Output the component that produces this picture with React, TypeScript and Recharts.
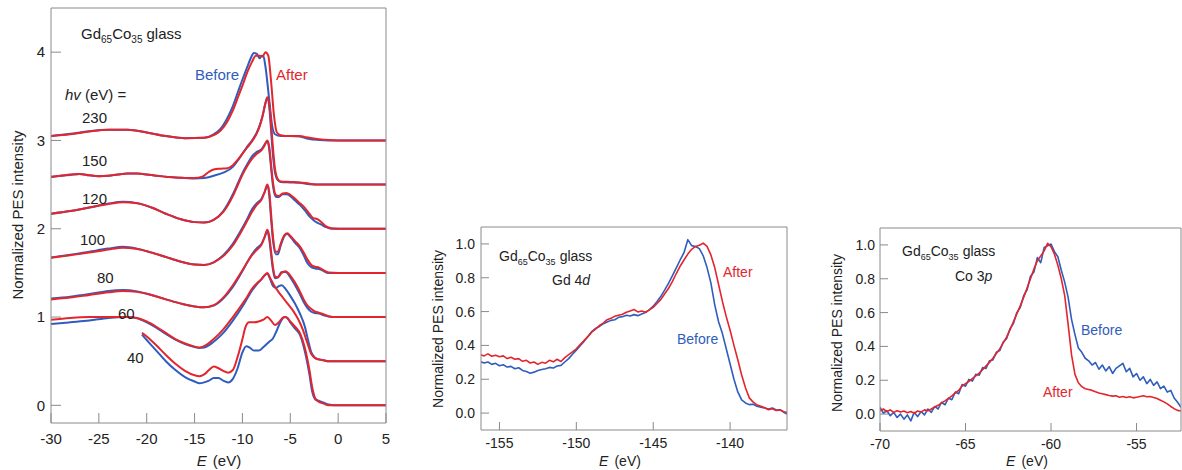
import React from 'react'
import { LineChart, Line, XAxis, YAxis } from 'recharts'

const FONT = '"Liberation Sans", Arial, Helvetica, sans-serif'
const BLUE = '#2f5dbd'
const RED = '#e3262d'
const FRAME = '#8a8a8a'
const INK = '#222'

type Pair = [number, number]

// ---- valence band spectra, stacked by photon energy (E, intensity + offset) ----
const hv230Before: Pair[] = [[-30,3.05],[-28,3.075],[-26,3.105],[-24,3.12],[-22,3.12],[-20,3.09],[-18,3.05],[-16,3.025],[-14,3.03],[-13,3.07],[-12.3,3.13],[-11.6,3.25],[-11,3.39],[-10.5,3.54],[-10,3.69],[-9.5,3.83],[-9.1,3.94],[-8.8,3.99],[-8.5,3.98],[-8.2,3.93],[-8.0,3.96],[-7.8,3.95],[-7.6,3.84],[-7.2,3.46],[-6.9,3.17],[-6.6,3.07],[-6,3.05],[-5,3.05],[-4,3.045],[-3.5,3.03],[-3,3.015],[-2,3.005],[-1,3.0],[5,3.0]]
const hv230After: Pair[] = [[-30,3.05],[-28,3.07],[-26,3.10],[-24,3.12],[-22,3.12],[-20,3.09],[-18,3.05],[-16,3.025],[-14,3.03],[-13,3.06],[-12.3,3.11],[-11.6,3.21],[-11,3.34],[-10.5,3.48],[-10,3.62],[-9.5,3.77],[-9,3.89],[-8.6,3.96],[-8.2,3.96],[-7.9,3.95],[-7.6,4.0],[-7.3,3.96],[-7.0,3.66],[-6.7,3.28],[-6.4,3.09],[-6,3.06],[-5,3.05],[-4,3.05],[-3.5,3.04],[-3,3.03],[-2,3.015],[-1,3.005],[0,3.0],[5,3.0]]

const hv150Before: Pair[] = [[-30,2.585],[-29,2.60],[-28,2.61],[-27,2.62],[-26,2.605],[-25,2.595],[-24,2.60],[-23,2.615],[-22,2.625],[-21,2.625],[-20,2.615],[-19,2.60],[-18,2.59],[-17,2.58],[-16,2.575],[-15,2.57],[-14,2.575],[-13,2.60],[-12,2.635],[-11,2.70],[-10.5,2.77],[-10,2.85],[-9.5,2.93],[-9,3.0],[-8.5,3.09],[-8.2,3.17],[-7.9,3.28],[-7.6,3.42],[-7.4,3.48],[-7.2,3.38],[-7.0,3.10],[-6.8,2.82],[-6.6,2.64],[-6.3,2.55],[-6,2.53],[-5,2.525],[-4,2.52],[-3,2.505],[-2,2.5],[5,2.5]]
const hv150After: Pair[] = [[-30,2.59],[-29,2.60],[-28,2.615],[-27,2.62],[-26,2.605],[-25,2.595],[-24,2.60],[-23,2.615],[-22,2.625],[-21,2.625],[-20,2.615],[-19,2.60],[-18,2.59],[-17,2.58],[-16,2.575],[-15,2.575],[-14.2,2.59],[-13.5,2.645],[-13,2.67],[-12.3,2.68],[-11.6,2.685],[-11,2.72],[-10.5,2.78],[-10,2.85],[-9.5,2.92],[-9,2.99],[-8.5,3.08],[-8.2,3.16],[-7.9,3.27],[-7.6,3.42],[-7.4,3.49],[-7.2,3.42],[-7.0,3.18],[-6.8,2.90],[-6.6,2.68],[-6.3,2.56],[-6,2.535],[-5,2.53],[-4,2.525],[-3,2.51],[-2,2.5],[5,2.5]]

const hv120Before: Pair[] = [[-30,2.17],[-28,2.20],[-26,2.24],[-24,2.285],[-22.5,2.305],[-21,2.29],[-19.5,2.24],[-18,2.17],[-16.5,2.11],[-15,2.075],[-14,2.07],[-13,2.10],[-12,2.20],[-11,2.39],[-10.5,2.51],[-10,2.63],[-9.5,2.73],[-9,2.82],[-8.5,2.87],[-8,2.90],[-7.7,2.95],[-7.4,2.99],[-7.2,2.90],[-7.0,2.68],[-6.8,2.48],[-6.5,2.36],[-6.2,2.36],[-5.8,2.39],[-5.4,2.39],[-5,2.37],[-4.5,2.32],[-4,2.27],[-3.5,2.21],[-3,2.14],[-2.6,2.10],[-2.2,2.07],[-1.8,2.05],[-1.3,2.02],[-0.7,2.0],[5,2.0]]
const hv120After: Pair[] = [[-30,2.17],[-28,2.20],[-26,2.24],[-24,2.28],[-22.5,2.30],[-21,2.29],[-19.5,2.24],[-18,2.17],[-16.5,2.11],[-15,2.075],[-14,2.07],[-13,2.10],[-12,2.19],[-11,2.37],[-10.5,2.49],[-10,2.61],[-9.5,2.71],[-9,2.79],[-8.5,2.85],[-8,2.89],[-7.7,2.94],[-7.4,3.0],[-7.2,2.93],[-7.0,2.72],[-6.8,2.52],[-6.5,2.38],[-6.2,2.37],[-5.8,2.40],[-5.4,2.405],[-5,2.385],[-4.5,2.34],[-4,2.29],[-3.5,2.24],[-3,2.17],[-2.6,2.12],[-2.2,2.11],[-1.8,2.08],[-1.3,2.03],[-0.7,2.005],[0,2.0],[5,2.0]]

const hv100Before: Pair[] = [[-30,1.675],[-28,1.705],[-26,1.74],[-24,1.775],[-22.5,1.795],[-21,1.775],[-19.5,1.73],[-18,1.68],[-16.5,1.63],[-15,1.595],[-14,1.59],[-13,1.62],[-12,1.70],[-11,1.83],[-10,2.01],[-9.5,2.11],[-9,2.22],[-8.5,2.29],[-8,2.34],[-7.7,2.41],[-7.4,2.48],[-7.2,2.38],[-7.0,2.10],[-6.8,1.86],[-6.5,1.71],[-6.3,1.71],[-6.0,1.81],[-5.6,1.92],[-5.3,1.94],[-5,1.91],[-4.5,1.84],[-4,1.78],[-3.6,1.70],[-3.2,1.61],[-2.8,1.565],[-2.4,1.55],[-2,1.545],[-1.6,1.525],[-1,1.5],[5,1.5]]
const hv100After: Pair[] = [[-30,1.67],[-28,1.70],[-26,1.73],[-24,1.765],[-22.5,1.785],[-21,1.77],[-19.5,1.73],[-18,1.68],[-16.5,1.63],[-15,1.595],[-14,1.59],[-13,1.62],[-12,1.69],[-11,1.81],[-10,1.99],[-9.5,2.09],[-9,2.19],[-8.5,2.27],[-8,2.33],[-7.7,2.41],[-7.4,2.50],[-7.2,2.42],[-7.0,2.16],[-6.8,1.90],[-6.5,1.74],[-6.3,1.74],[-6.0,1.83],[-5.6,1.93],[-5.3,1.95],[-5,1.92],[-4.5,1.86],[-4,1.80],[-3.6,1.73],[-3.2,1.65],[-2.8,1.59],[-2.4,1.57],[-2,1.56],[-1.6,1.535],[-1,1.505],[0,1.5],[5,1.5]]

const hv80Before: Pair[] = [[-30,1.21],[-28,1.23],[-26,1.26],[-24,1.295],[-22.5,1.305],[-21,1.29],[-19.5,1.25],[-18,1.20],[-16.5,1.155],[-15,1.12],[-14,1.11],[-13,1.13],[-12,1.21],[-11,1.34],[-10,1.52],[-9.5,1.62],[-9,1.71],[-8.5,1.78],[-8,1.83],[-7.7,1.90],[-7.4,1.97],[-7.2,1.88],[-7.0,1.70],[-6.8,1.53],[-6.6,1.44],[-6.3,1.45],[-5.9,1.51],[-5.5,1.51],[-5,1.45],[-4.5,1.36],[-4,1.26],[-3.6,1.17],[-3.2,1.10],[-2.8,1.06],[-2.4,1.045],[-2,1.04],[-1.5,1.02],[-1,1.005],[-0.5,1.0],[5,1.0]]
const hv80After: Pair[] = [[-30,1.20],[-28,1.22],[-26,1.25],[-24,1.28],[-22.5,1.295],[-21,1.285],[-19.5,1.25],[-18,1.20],[-16.5,1.155],[-15,1.12],[-14,1.11],[-13,1.135],[-12,1.22],[-11,1.36],[-10,1.53],[-9.5,1.62],[-9,1.70],[-8.5,1.76],[-8,1.82],[-7.7,1.90],[-7.4,1.99],[-7.2,1.92],[-7.0,1.74],[-6.8,1.56],[-6.6,1.46],[-6.3,1.45],[-5.9,1.50],[-5.5,1.52],[-5,1.47],[-4.5,1.39],[-4,1.29],[-3.6,1.20],[-3.2,1.13],[-2.8,1.09],[-2.4,1.06],[-2,1.05],[-1.5,1.03],[-1,1.01],[-0.5,1.0],[5,1.0]]

const hv60Before: Pair[] = [[-30,0.92],[-28,0.94],[-26,0.96],[-24,0.99],[-22,1.0],[-21,0.985],[-20,0.94],[-19,0.88],[-18,0.81],[-17,0.745],[-16,0.695],[-15,0.66],[-14.5,0.65],[-14,0.655],[-13,0.72],[-12,0.82],[-11,0.96],[-10,1.12],[-9.5,1.21],[-9,1.30],[-8.5,1.37],[-8,1.43],[-7.7,1.47],[-7.4,1.49],[-7.1,1.43],[-6.8,1.35],[-6.5,1.33],[-6.2,1.35],[-5.9,1.36],[-5.5,1.32],[-5.0,1.24],[-4.5,1.15],[-4.0,1.04],[-3.5,0.90],[-3.1,0.72],[-2.8,0.60],[-2.4,0.54],[-2,0.52],[-1.5,0.51],[-1,0.5],[5,0.5]]
const hv60After: Pair[] = [[-30,0.97],[-28,0.99],[-26,1.0],[-24,1.0],[-22,1.0],[-21,0.99],[-20,0.95],[-19,0.89],[-18,0.82],[-17,0.75],[-16,0.70],[-15,0.665],[-14.5,0.655],[-14,0.67],[-13,0.75],[-12,0.86],[-11,1.0],[-10,1.15],[-9.5,1.23],[-9,1.32],[-8.5,1.38],[-8,1.43],[-7.7,1.47],[-7.4,1.50],[-7.1,1.44],[-6.7,1.36],[-6.2,1.28],[-5.7,1.21],[-5.2,1.14],[-4.7,1.07],[-4.2,0.98],[-3.7,0.86],[-3.2,0.70],[-2.8,0.58],[-2.4,0.535],[-2,0.52],[-1.5,0.51],[-1,0.5],[5,0.5]]

const hv40Before: Pair[] = [[-20.5,0.80],[-20,0.74],[-19,0.62],[-18,0.50],[-17,0.40],[-16,0.32],[-15,0.27],[-14.5,0.25],[-14,0.26],[-13.5,0.28],[-13,0.31],[-12.5,0.31],[-12,0.28],[-11.5,0.26],[-11,0.30],[-10.5,0.42],[-10,0.60],[-9.6,0.67],[-9.2,0.65],[-8.8,0.62],[-8.3,0.62],[-7.8,0.66],[-7.2,0.72],[-6.8,0.76],[-6.4,0.85],[-6.0,0.95],[-5.6,1.0],[-5.3,0.99],[-5.0,0.94],[-4.5,0.87],[-4,0.80],[-3.5,0.62],[-3,0.35],[-2.7,0.15],[-2.4,0.07],[-2,0.05],[-1.5,0.03],[-1,0.01],[0,0.0],[5,0.0]]
const hv40After: Pair[] = [[-20.5,0.82],[-20,0.78],[-19,0.68],[-18,0.57],[-17,0.47],[-16,0.39],[-15,0.34],[-14.5,0.33],[-14,0.35],[-13.5,0.40],[-13,0.44],[-12.5,0.42],[-12,0.39],[-11.5,0.37],[-11,0.40],[-10.5,0.55],[-10,0.75],[-9.7,0.88],[-9.3,0.94],[-8.8,0.94],[-8.3,0.95],[-7.8,0.97],[-7.4,1.0],[-7.0,0.96],[-6.6,0.91],[-6.2,0.94],[-5.8,0.99],[-5.5,1.0],[-5.0,0.95],[-4.5,0.89],[-4,0.82],[-3.5,0.66],[-3,0.40],[-2.7,0.20],[-2.4,0.08],[-2,0.04],[-1.5,0.02],[-1,0.0],[5,0.0]]

const vbLabels = ['230', '150', '120', '100', '80', '60', '40']

// ---- Gd 4d core level, sampled every 0.25 eV from -156.25 eV ----
const gd4dStart = -156.25
const gd4dStep = 0.25
const gd4dBefore = [
  0.305, 0.296, 0.302, 0.288, 0.294, 0.280, 0.286, 0.272, 0.276, 0.262,
  0.268, 0.252, 0.246, 0.236, 0.242, 0.252, 0.258, 0.262, 0.270, 0.266,
  0.278, 0.282, 0.302, 0.322, 0.348, 0.372, 0.398, 0.424, 0.452, 0.482,
  0.500, 0.512, 0.528, 0.538, 0.548, 0.552, 0.566, 0.570, 0.578, 0.574,
  0.582, 0.576, 0.586, 0.594, 0.612, 0.632, 0.660, 0.690, 0.728, 0.768,
  0.812, 0.858, 0.905, 0.948, 1.025, 0.990, 0.985, 0.972, 0.930, 0.860,
  0.770, 0.640, 0.540, 0.470, 0.380, 0.290, 0.200, 0.125, 0.078, 0.060,
  0.050, 0.052, 0.040, 0.034, 0.030, 0.024, 0.030, 0.018, 0.020, 0.004,
  -0.006,
]
const gd4dAfter = [
  0.345, 0.338, 0.350, 0.336, 0.342, 0.333, 0.338, 0.322, 0.330, 0.318,
  0.322, 0.306, 0.312, 0.296, 0.302, 0.288, 0.300, 0.295, 0.312, 0.303,
  0.318, 0.305, 0.328, 0.345, 0.362, 0.380, 0.405, 0.428, 0.452, 0.478,
  0.496, 0.518, 0.532, 0.552, 0.560, 0.572, 0.578, 0.584, 0.596, 0.604,
  0.612, 0.598, 0.604, 0.596, 0.610, 0.625, 0.648, 0.672, 0.705, 0.738,
  0.778, 0.825, 0.868, 0.905, 0.940, 0.968, 0.985, 0.992, 1.005, 0.985,
  0.935, 0.860, 0.760, 0.660, 0.570, 0.490, 0.400, 0.315, 0.225, 0.150,
  0.090, 0.065, 0.048, 0.040, 0.032, 0.020, 0.026, 0.015, 0.018, 0.008,
  0.004,
]

// ---- Co 3p core level, sampled every 0.2 eV from -70 eV ----
const co3pStart = -70
const co3pStep = 0.2
const co3pBefore = [
  0.040, 0.005, 0.020, -0.010, 0.010, -0.020, 0.000, -0.030, -0.005, -0.040,
  0.010, -0.015, 0.015, -0.005, 0.030, 0.010, 0.045, 0.030, 0.070, 0.055,
  0.095, 0.085, 0.130, 0.120, 0.175, 0.165, 0.205, 0.195, 0.235, 0.230,
  0.275, 0.270, 0.315, 0.320, 0.365, 0.375, 0.425, 0.445, 0.505, 0.535,
  0.600, 0.630, 0.700, 0.735, 0.815, 0.840, 0.925, 0.895, 0.985, 0.995,
  1.005, 0.960, 0.930, 0.850, 0.780, 0.690, 0.560, 0.470, 0.390, 0.365,
  0.330, 0.315, 0.290, 0.305, 0.265, 0.290, 0.255, 0.280, 0.240, 0.270,
  0.285, 0.300, 0.250, 0.270, 0.220, 0.240, 0.200, 0.220, 0.180, 0.205,
  0.170, 0.190, 0.150, 0.165, 0.130, 0.140, 0.095, 0.070, 0.040,
]
const co3pAfter = [
  0.020, 0.030, 0.015, 0.025, 0.010, 0.020, 0.012, 0.018, 0.008, 0.015,
  0.005, 0.018, 0.012, 0.025, 0.020, 0.030, 0.042, 0.052, 0.066, 0.078,
  0.092, 0.108, 0.125, 0.140, 0.166, 0.180, 0.194, 0.210, 0.226, 0.242,
  0.262, 0.285, 0.305, 0.330, 0.358, 0.385, 0.420, 0.455, 0.498, 0.545,
  0.592, 0.640, 0.690, 0.745, 0.800, 0.858, 0.905, 0.935, 0.965, 1.010,
  0.990, 0.945, 0.880, 0.800, 0.700, 0.530, 0.350, 0.235, 0.185, 0.162,
  0.150, 0.145, 0.140, 0.132, 0.125, 0.120, 0.115, 0.110, 0.106, 0.108,
  0.100, 0.104, 0.098, 0.102, 0.096, 0.100, 0.104, 0.108, 0.102, 0.104,
  0.098, 0.092, 0.082, 0.072, 0.060, 0.045, 0.032, 0.022, 0.018,
]

const vbTicksX = [-30, -25, -20, -15, -10, -5, 0, 5]
const vbTicksY = [0, 1, 2, 3, 4]
const gd4dTicksX = [-155, -150, -145, -140]
const co3pTicksX = [-70, -65, -60, -55]
const coreTicksY = [0, 0.2, 0.4, 0.6, 0.8, 1.0]

type Pt = { x: number; y: number }
const fromPairs = (p: Pair[]): Pt[] => p.map(([x, y]) => ({ x, y }))
const fromGrid = (start: number, step: number, ys: number[]): Pt[] =>
  ys.map((y, i) => ({ x: +(start + i * step).toFixed(2), y }))

type Series = { key: string; color: string; data: Pt[] }

const vbSeries: Series[] = [
  [hv230Before, hv230After],
  [hv150Before, hv150After],
  [hv120Before, hv120After],
  [hv100Before, hv100After],
  [hv80Before, hv80After],
  [hv60Before, hv60After],
  [hv40Before, hv40After],
].flatMap(([b, a], i) => [
  { key: `b${vbLabels[i]}`, color: BLUE, data: fromPairs(b) },
  { key: `a${vbLabels[i]}`, color: RED, data: fromPairs(a) },
])

const gd4dSeries: Series[] = [
  { key: 'before', color: BLUE, data: fromGrid(gd4dStart, gd4dStep, gd4dBefore) },
  { key: 'after', color: RED, data: fromGrid(gd4dStart, gd4dStep, gd4dAfter) },
]
const co3pSeries: Series[] = [
  { key: 'before', color: BLUE, data: fromGrid(co3pStart, co3pStep, co3pBefore) },
  { key: 'after', color: RED, data: fromGrid(co3pStart, co3pStep, co3pAfter) },
]

type PanelProps = {
  left: number
  top: number
  width: number
  height: number
  margin: { top: number; right: number; bottom: number; left: number }
  yAxisWidth: number
  xDomain: [number, number]
  yDomain: [number, number]
  xTicks: number[]
  yTicks: number[]
  yFmt?: (v: number) => string
  fontSize: number
  tickLen: number
  xTickMargin: number
  yTickMargin: number
  series: Series[]
  curve: 'monotone' | 'linear'
  lineWidth: number
}

// boxed plot: ticks pointing inward on all four sides
const Panel = (p: PanelProps) => {
  const tickStyle = { fill: INK, fontSize: p.fontSize, fontFamily: FONT }
  return (
    <div style={{ position: 'absolute', left: p.left, top: p.top }}>
      <LineChart width={p.width} height={p.height} margin={p.margin}>
        <XAxis
          xAxisId="b"
          type="number"
          dataKey="x"
          domain={p.xDomain}
          ticks={p.xTicks}
          interval={0}
          allowDataOverflow
          height={30}
          stroke={FRAME}
          tickSize={-p.tickLen}
          tickMargin={p.xTickMargin}
          tick={tickStyle}
        />
        <XAxis
          xAxisId="t"
          orientation="top"
          type="number"
          dataKey="x"
          domain={p.xDomain}
          ticks={p.xTicks}
          interval={0}
          allowDataOverflow
          height={1}
          stroke={FRAME}
          tickSize={-p.tickLen}
          tick={false}
        />
        <YAxis
          yAxisId="l"
          type="number"
          domain={p.yDomain}
          ticks={p.yTicks}
          interval={0}
          allowDataOverflow
          width={p.yAxisWidth}
          stroke={FRAME}
          tickSize={-p.tickLen}
          tickMargin={p.yTickMargin}
          tickFormatter={p.yFmt}
          tick={tickStyle}
        />
        <YAxis
          yAxisId="r"
          orientation="right"
          type="number"
          domain={p.yDomain}
          ticks={p.yTicks}
          interval={0}
          allowDataOverflow
          width={1}
          stroke={FRAME}
          tickSize={-p.tickLen}
          tick={false}
        />
        {p.series.map((s) => (
          <Line
            key={s.key}
            xAxisId="b"
            yAxisId="l"
            data={s.data}
            dataKey="y"
            type={p.curve}
            stroke={s.color}
            strokeWidth={p.lineWidth}
            strokeLinejoin="round"
            dot={false}
            activeDot={false}
            isAnimationActive={false}
          />
        ))}
      </LineChart>
    </div>
  )
}

const Alloy = ({ x, y, size, sub }: { x: number; y: number; size: number; sub: number }) => (
  <text x={x} y={y} fontSize={size} fill={INK}>
    Gd<tspan dy={4} fontSize={sub}>65</tspan>
    <tspan dy={-4}>Co</tspan>
    <tspan dy={4} fontSize={sub}>35</tspan>
    <tspan dy={-4} dx={4}>glass</tspan>
  </text>
)

const AxisTitleX = ({ cx, y, size }: { cx: number; y: number; size: number }) => (
  <text x={cx} y={y} fontSize={size} fill={INK} textAnchor="middle">
    <tspan fontStyle="italic">E</tspan>
    <tspan dx={6}>(eV)</tspan>
  </text>
)

const AxisTitleY = ({ cx, cy, size }: { cx: number; cy: number; size: number }) => (
  <text
    x={cx}
    y={cy}
    fontSize={size}
    fill={INK}
    textAnchor="middle"
    dominantBaseline="central"
    transform={`rotate(-90 ${cx} ${cy})`}
  >
    Normalized PES intensity
  </text>
)

const hvLabelPos: [number, number][] = [[82, 123], [82, 166], [82, 204], [80, 245], [97, 283], [118, 319], [127, 363]]

export default function App() {
  const fmt1 = (v: number) => v.toFixed(1)
  return (
    <div style={{ position: 'absolute', left: 0, top: 0, width: 1182, height: 470, background: '#fff', fontFamily: FONT, overflow: 'hidden' }}>
      <Panel
        left={0}
        top={0}
        width={400}
        height={470}
        margin={{ top: 7, right: 13, bottom: 17, left: 0 }}
        yAxisWidth={51}
        xDomain={[-30, 5]}
        yDomain={[-0.2, 4.5]}
        xTicks={vbTicksX}
        yTicks={vbTicksY}
        fontSize={15}
        tickLen={10}
        xTickMargin={20}
        yTickMargin={16}
        series={vbSeries}
        curve="monotone"
        lineWidth={2}
      />
      <Panel
        left={420}
        top={200}
        width={380}
        height={270}
        margin={{ top: 26, right: 12, bottom: 10, left: 0 }}
        yAxisWidth={61}
        xDomain={[-156.2, -136.3]}
        yDomain={[-0.1, 1.1]}
        xTicks={gd4dTicksX}
        yTicks={coreTicksY}
        yFmt={fmt1}
        fontSize={14}
        tickLen={8}
        xTickMargin={16}
        yTickMargin={14}
        series={gd4dSeries}
        curve="linear"
        lineWidth={1.6}
      />
      <Panel
        left={820}
        top={200}
        width={362}
        height={270}
        margin={{ top: 27, right: 0, bottom: 9, left: 0 }}
        yAxisWidth={60}
        xDomain={[-70, -52.4]}
        yDomain={[-0.1, 1.1]}
        xTicks={co3pTicksX}
        yTicks={coreTicksY}
        yFmt={fmt1}
        fontSize={14}
        tickLen={8}
        xTickMargin={16}
        yTickMargin={13}
        series={co3pSeries}
        curve="linear"
        lineWidth={1.6}
      />
      <svg width={1182} height={470} style={{ position: 'absolute', left: 0, top: 0, pointerEvents: 'none' }} fontFamily={FONT}>
        {/* valence band panel */}
        <Alloy x={81} y={39} size={15} sub={10} />
        <text x={195} y={80} fontSize={15} fill={BLUE}>Before</text>
        <text x={276} y={80} fontSize={15} fill={RED}>After</text>
        <text x={65} y={100} fontSize={15} fill={INK}>
          <tspan fontStyle="italic">hv</tspan> (eV) =
        </text>
        {vbLabels.map((t, i) => (
          <text key={t} x={hvLabelPos[i][0]} y={hvLabelPos[i][1]} fontSize={15} fill={INK}>{t}</text>
        ))}
        <AxisTitleY cx={17} cy={215} size={15} />
        <AxisTitleX cx={219} y={466} size={15} />

        {/* Gd 4d panel */}
        <Alloy x={499} y={261} size={14} sub={9} />
        <text x={552} y={285} fontSize={14} fill={INK}>
          Gd 4<tspan fontStyle="italic">d</tspan>
        </text>
        <text x={723} y={277} fontSize={14} fill={RED}>After</text>
        <text x={677} y={344} fontSize={14} fill={BLUE}>Before</text>
        <AxisTitleY cx={438} cy={329} size={14} />
        <AxisTitleX cx={620} y={466} size={14} />

        {/* Co 3p panel */}
        <Alloy x={902} y={256} size={14} sub={9} />
        <text x={955} y={281} fontSize={14} fill={INK}>
          Co 3<tspan fontStyle="italic">p</tspan>
        </text>
        <text x={1081} y={335} fontSize={14} fill={BLUE}>Before</text>
        <text x={1043} y={397} fontSize={14} fill={RED}>After</text>
        <AxisTitleY cx={837} cy={333} size={14} />
        <AxisTitleX cx={1027} y={466} size={14} />
      </svg>
    </div>
  )
}
